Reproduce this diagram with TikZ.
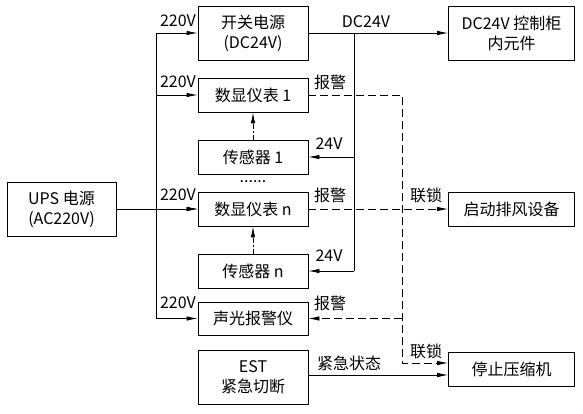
\documentclass[tikz,border=0pt]{standalone}
\usepackage{fontspec}
\setmainfont{Noto Sans CJK SC}
\usetikzlibrary{arrows.meta,positioning}

\tikzset{
  >={Latex[length=11pt,width=4.5pt]},
  box/.style={draw, line width=0.8pt, minimum width=110pt, minimum height=34pt, align=center, inner sep=1pt},
  bigbox/.style={box, minimum height=54pt},
  wire/.style={line width=0.8pt},
  alarmline/.style={wire, dash pattern=on 8pt off 4pt},
  sigline/.style={wire, dash pattern=on 5pt off 2pt on 1.5pt off 2pt},
  lbl/.style={inner sep=0pt}
}

\begin{document}
\begin{tikzpicture}[x=1pt,y=-1pt,font=\fontsize{16}{20}\selectfont]
    \useasboundingbox (0,0) rectangle (583,413);

    % UPS
    \node[bigbox, minimum width=109pt] (ups) at (61.5,209) {UPS 电源\\(AC220V)};

    % Middle column
    \node[bigbox] (psu)   at (253,33)  {开关电源\\(DC24V)};
    \node[box]    (disp1) at (253,95)  {数显仪表 1};
    \node[box]    (sens1) at (253,157) {传感器 1};
    \node[lbl]    (dots)  at (253,182) {......};
    \node[box]    (dispn) at (253,209) {数显仪表 n};
    \node[box]    (sensn) at (253,271) {传感器 n};
    \node[box, minimum height=33pt] (alarm) at (253,318.5) {声光报警仪};
    \node[bigbox] (est)   at (253,377) {EST\\紧急切断};

    % Right column
    \node[bigbox, minimum width=126pt] (cab)  at (511.5,33)  {DC24V 控制柜\\内元件};
    \node[box, minimum width=126pt]    (fan)  at (511.5,209) {启动排风设备};
    \node[box, minimum width=126pt]    (comp) at (511.5,369) {停止压缩机};

    % 220V distribution
    \coordinate (acbus) at (156,209);
    \draw[wire] (acbus |- psu.west) -- (acbus |- alarm.west);
    \draw[wire,->] (ups.east) -- (dispn.west);
    \foreach \n/\y in {psu/21,disp1/82,dispn/195,alarm/303} {
        \draw[wire,->] (acbus |- \n.west) -- (\n.west);
        \node[lbl] (v\n) at (178,\y) {220V};
    }

    % 24V distribution
    \coordinate (dcbus) at (354,33);
    \draw[wire,->] (psu.east) -- (cab.west);
    \draw[wire] (dcbus) -- (dcbus |- sensn.east);
    \draw[wire,->] (dcbus |- sens1.east) -- (sens1.east);
    \draw[wire,->] (dcbus |- sensn.east) -- (sensn.east);
    \node[lbl] (dc)  at (366,22)  {DC24V};
    \node[lbl] (dc1) at (329,144) {24V};
    \node[lbl] (dcn) at (329,256) {24V};

    % Sensor signals
    \draw[sigline,->] (sens1.north) -- (disp1.south);
    \draw[sigline,->] (sensn.north) -- (dispn.south);

    % Alarm and interlock
    \coordinate (lock) at (402,95);
    \coordinate (lockend) at (402,363);
    \draw[alarmline,->] (disp1.east) -- (lock) -- (lockend) -- (lockend -| comp.west);
    \draw[alarmline,->] (dispn.east) -- (fan.west);
    \draw[alarmline,->] (lock |- alarm.east) -- (alarm.east);
    \node[lbl] (al1) at (330,82)  {报警};
    \node[lbl] (aln) at (330,195) {报警};
    \node[lbl] (als) at (330,303) {报警};
    \node[lbl] (lk1) at (426,195) {联锁};
    \node[lbl] (lk2) at (426,351) {联锁};

    % Emergency stop
    \coordinate (estin) at ([yshift=-6pt]comp.west);
    \draw[wire,->] (est.east |- estin) -- (estin);
    \node[lbl] (emg) at (349,363) {紧急状态};
\end{tikzpicture}
\end{document}
